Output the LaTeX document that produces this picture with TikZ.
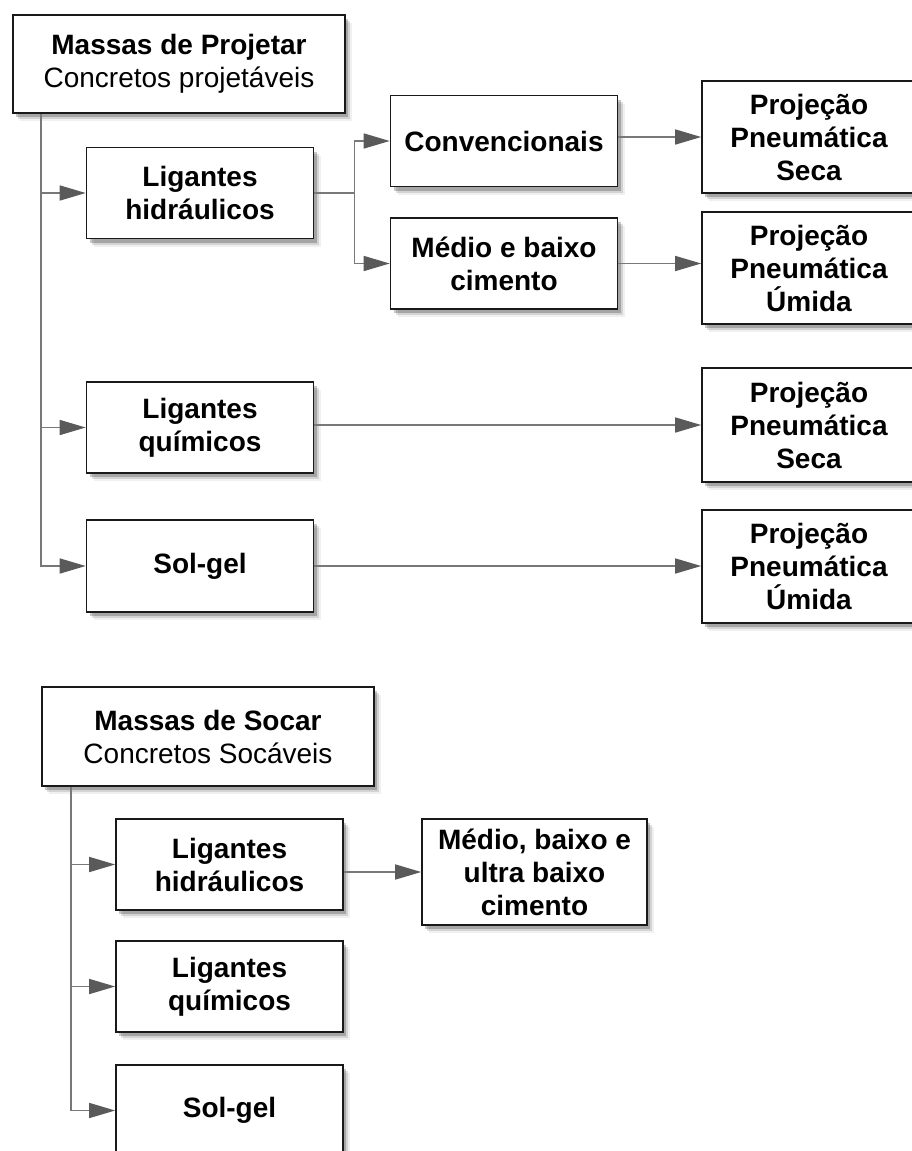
\documentclass[tikz,border=0pt]{standalone}
\usepackage{fontspec}
\setmainfont{Liberation Sans}
\usetikzlibrary{arrows.meta}
\usetikzlibrary{shadows}
\definecolor{linkgray}{RGB}{120,120,120}
\definecolor{tipgray}{RGB}{90,90,90}

\begin{document}
\begin{tikzpicture}[x=1pt, y=-1pt,
  box/.style={draw=black!90, line width=1.6pt, fill=white, align=center,
    font=\fontsize{28}{33}\selectfont\bfseries, inner sep=0pt,
    minimum width=227pt, minimum height=91pt,
    drop shadow={shadow xshift=7pt, shadow yshift=-8pt, fill=black, opacity=0.06},
    drop shadow={shadow xshift=5pt, shadow yshift=-6pt, fill=black, opacity=0.12},
    drop shadow={shadow xshift=3pt, shadow yshift=-4pt, fill=black, opacity=0.22}},
  link/.style={draw=linkgray, line width=1.5pt},
  arrow/.style={link, -{Triangle[length=26pt, width=15pt, color=tipgray]}}]

  % Canvas
  \useasboundingbox (0,0) rectangle (912,1151);
  \clip (0,0) rectangle (912,1151);

  % Massas de projetar
  \node[box, minimum width=332pt, minimum height=98pt] (proj) at (179,64)
    {Massas de Projetar\\{\mdseries Concretos projetáveis}};
  \node[box] (lh1) at (200,193) {Ligantes\\hidráulicos};
  \node[box] (conv) at (504,141) {Convencionais};
  \node[box] (medio) at (504,263.5) {Médio e baixo\\cimento};
  \node[box, minimum width=214pt, minimum height=112pt] (projs1) at (809,137)
    {Projeção\\Pneumática\\Seca};
  \node[box, minimum width=214pt, minimum height=112pt] (proju1) at (809,268)
    {Projeção\\Pneumática\\Úmida};
  \node[box] (lq1) at (200,427.5) {Ligantes\\químicos};
  \node[box, minimum width=214pt, minimum height=114pt] (projs2) at (809,425)
    {Projeção\\Pneumática\\Seca};
  \node[box, minimum height=92pt] (sg1) at (200,566) {Sol-gel};
  \node[box, minimum width=214pt, minimum height=113pt] (proju2) at (809,566.5)
    {Projeção\\Pneumática\\Úmida};

  % Massas de socar
  \node[box, minimum width=332pt, minimum height=99pt] (soc) at (208,736.5)
    {Massas de Socar\\{\mdseries Concretos Socáveis}};
  \node[box] (lh2) at (229.5,864.5) {Ligantes\\hidráulicos};
  \node[box, minimum width=225pt, minimum height=106pt] (mbu) at (534.5,872)
    {Médio, baixo e\\ultra baixo\\cimento};
  \node[box] (lq2) at (229.5,986.5) {Ligantes\\químicos};
  \node[box] (sg2) at (229.5,1110.5) {Sol-gel};

  % Trunk lines
  \coordinate (trunk1) at ([xshift=29pt]proj.south west);
  \draw[arrow] (trunk1) |- (sg1.west);
  \foreach \n in {lh1,lq1}
    \draw[arrow] (trunk1 |- \n.west) -- (\n.west);

  \coordinate (trunk2) at ([xshift=30pt]soc.south west);
  \draw[arrow] (trunk2) |- (sg2.west);
  \foreach \n in {lh2,lq2}
    \draw[arrow] (trunk2 |- \n.west) -- (\n.west);

  % Fork after ligantes hidraulicos
  \coordinate (fork) at ([xshift=40pt]lh1.east);
  \draw[link] (lh1.east) -- (fork);
  \draw[arrow] (fork) |- (conv.west);
  \draw[arrow] (fork) |- (medio.west);

  % To projecao
  \draw[arrow] (projs1.west -| conv.east) -- (projs1.west);
  \draw[arrow] (medio.east) -- (medio.east -| proju1.west);
  \draw[arrow] (projs2.west -| lq1.east) -- (projs2.west);
  \draw[arrow] (sg1.east) -- (sg1.east -| proju2.west);
  \draw[arrow] (mbu.west -| lh2.east) -- (mbu.west);

\end{tikzpicture}
\end{document}
